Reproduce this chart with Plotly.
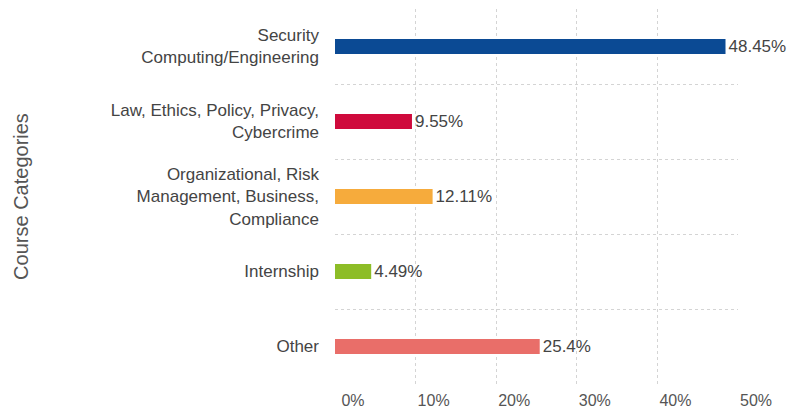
import plotly.graph_objects as go

categorias = [
    "Security<br>Computing/Engineering",
    "Law, Ethics, Policy, Privacy,<br>Cybercrime",
    "Organizational, Risk<br>Management, Business,<br>Compliance",
    "Internship",
    "Other",
]
percentuais = [48.45, 9.55, 12.11, 4.49, 25.4]
rotulos = ["48.45%", "9.55%", "12.11%", "4.49%", "25.4%"]
cores_barras = ["#0b4a94", "#cf0a3c", "#f6ab3c", "#8dbd27", "#e96e69"]
ticks_x = [0, 10, 20, 30, 40, 50]
ticks_x_texto = ["0%", "10%", "20%", "30%", "40%", "50%"]

FONTE = "Arial, Liberation Sans, sans-serif"
GRADE = "#d4d4d4"

fig = go.Figure(go.Bar(
    x=percentuais,
    y=categorias,
    orientation="h",
    marker=dict(color=cores_barras, line=dict(width=0)),
    width=0.2,
    text=rotulos,
    textposition="outside",
    constraintext="none",
    textfont=dict(size=17, color="#444444", family=FONTE),
    cliponaxis=False,
))

# a página tem margem de 8px no body, por isso o tamanho é 791x404
fig.update_layout(
    width=791,
    height=404,
    paper_bgcolor="white",
    plot_bgcolor="white",
    font=dict(family=FONTE, color="#444444"),
    margin=dict(l=327, r=61, t=1, b=28),
    showlegend=False,
    xaxis=dict(
        range=[0, 50],
        tickvals=ticks_x,
        ticktext=ticks_x_texto,
        tickfont=dict(size=16, color="#555555"),
        ticklabelshift=18,
        ticks="outside",
        ticklen=2,
        tickcolor="rgba(0,0,0,0)",
        showgrid=True,
        gridcolor=GRADE,
        griddash="dot",
        gridwidth=1,
        zeroline=False,
        showline=False,
        automargin=False,
        fixedrange=True,
    ),
    yaxis=dict(
        type="category",
        autorange="reversed",
        tickson="boundaries",
        ticks="",
        ticklabelstandoff=15,
        showgrid=True,
        gridcolor=GRADE,
        griddash="dot",
        gridwidth=1,
        tickfont=dict(size=17, color="#444444"),
        title=dict(text="Course Categories", font=dict(size=20, color="#555555"), standoff=76),
        showline=False,
        zeroline=False,
        automargin=False,
    ),
)

fig.write_html("out.html")
